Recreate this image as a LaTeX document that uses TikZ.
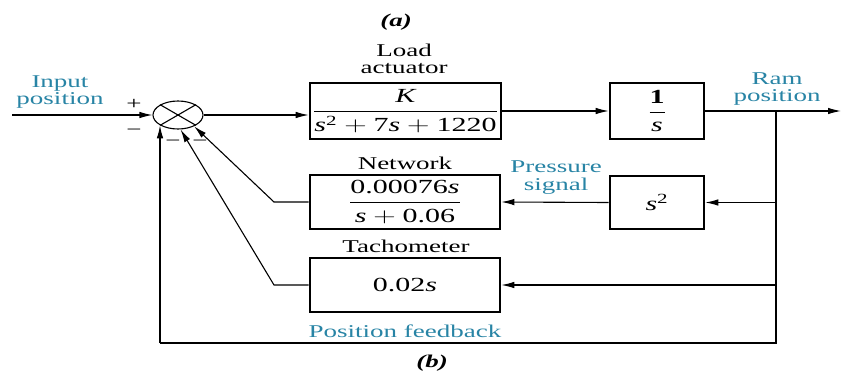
\documentclass[tikz,border=0pt]{standalone}
\usepackage{graphicx}
\usepackage{amsmath}
\usepackage{fontspec}
\setmainfont{Liberation Serif}
\usetikzlibrary{arrows.meta,shapes.geometric,calc}

\definecolor{labelteal}{RGB}{40,132,165}
% horizontally widened text
\newcommand\hs[1]{\scalebox{1.5}[1]{#1}}
\newcommand\twoline[2]{\hs{\begin{tabular}{@{}c@{}}#1\\#2\end{tabular}}}
% upright digits in the main font
\newcommand\nm[1]{\textup{#1}}

\begin{document}
\begin{tikzpicture}[x=1pt,y=-1pt,
  txt/.style={font=\fontsize{18}{17}\selectfont, inner sep=0pt},
  note/.style={txt, text=labelteal},
  blockbox/.style={draw, line width=2.6pt, inner sep=0pt, font=\fontsize{20}{22}\selectfont},
  conn/.style={line width=1.1pt},
  arr/.style={conn, -{Latex[length=13pt,width=6.5pt]}}
]
\useasboundingbox (0,0) rectangle (841,370);

% captions
\node[txt] (capa) at (396,22) {\hs{\textbf{\textit{(a)}}}};
\node[txt] (capb) at (432,363) {\hs{\textbf{\textit{(b)}}}};

% summing junction
\node[draw, ellipse, line width=1.1pt, minimum width=50pt, minimum height=28pt, inner sep=0pt] (sum) at (178,115) {};
\draw[conn] (sum.150) -- (sum.-30) (sum.30) -- (sum.-150);

% blocks
\node[blockbox, minimum width=191pt, minimum height=56pt] (act) at (405.5,111)
  {\hs{$\dfrac{\textit{K}}{\textit{s}^{\nm{2}}+\nm{7}\textit{s}+\nm{1220}}$}};
\node[blockbox, minimum width=94pt, minimum height=56pt] (integ) at (657,111)
  {\hs{$\dfrac{\nm{\textbf{1}}}{\textit{s}}$}};
\node[blockbox, minimum width=94pt, minimum height=53pt] (sq) at (657,202.5)
  {\hs{$\textit{s}^{\nm{2}}$}};
\node[blockbox, minimum width=190pt, minimum height=54pt] (net) at (405,202)
  {\hs{$\dfrac{\nm{0.00076}\textit{s}}{\textit{s}+\nm{0.06}}$}};
\node[blockbox, minimum width=190pt, minimum height=54pt] (tach) at (405,285)
  {\hs{0.02\textit{s}}};

% block titles
\node[txt] (actlbl) at (404,61) {\twoline{Load}{actuator}};
\node[txt] (netlbl) at (405,163) {\hs{Network}};
\node[txt] (tachlbl) at (406,246) {\hs{Tachometer}};

% signal names
\node[note] (inlbl) at (60,93) {\twoline{Input}{position}};
\node[note] (ramlbl) at (777,90) {\twoline{Ram}{position}};
\node[note] (preslbl) at (556,178) {\twoline{Pressure}{signal}};
\node[note] (poslbl) at (405,331) {\hs{Position feedback}};

% signs at the junction
\node[txt] (plus) at (134,104) {\hs{+}};
\node[txt] (mina) at (134,132) {\hs{\char"2212}};
\node[txt] (minb) at (173,143) {\hs{\char"2212}};
\node[txt] (minc) at (200,143) {\hs{\char"2212}};

% routing points
\coordinate (inpt) at (12,115);
\coordinate (tap) at (776,111);
\coordinate (outend) at (841,111);
\coordinate (botr) at (776,343);
\coordinate (botl) at (160,343);
\coordinate (nb) at (274,202);
\coordinate (tb) at (274,285);

% forward path
\draw[arr] (inpt) -- (sum.west);
\draw[arr] (sum.east) -- (sum.east -| act.west);
\draw[arr] (act.east) -- (integ.west);
\draw[arr] (integ.east) -- (outend);

% feedback paths
\draw[conn] (tap) -- (botr) -- (botl);
\draw[arr] (botl) -- (botl |- sum.-150);
\draw[arr] (tap |- sq) -- (sq.east);
\draw[arr] (sq.west) -- (net.east);
\draw[arr] (tap |- tach) -- (tach.east);
\draw[arr] (net.west) -- (nb) -- (sum.-35);
\draw[arr] (tach.west) -- (tb) -- (sum.-80);
\end{tikzpicture}
\end{document}
